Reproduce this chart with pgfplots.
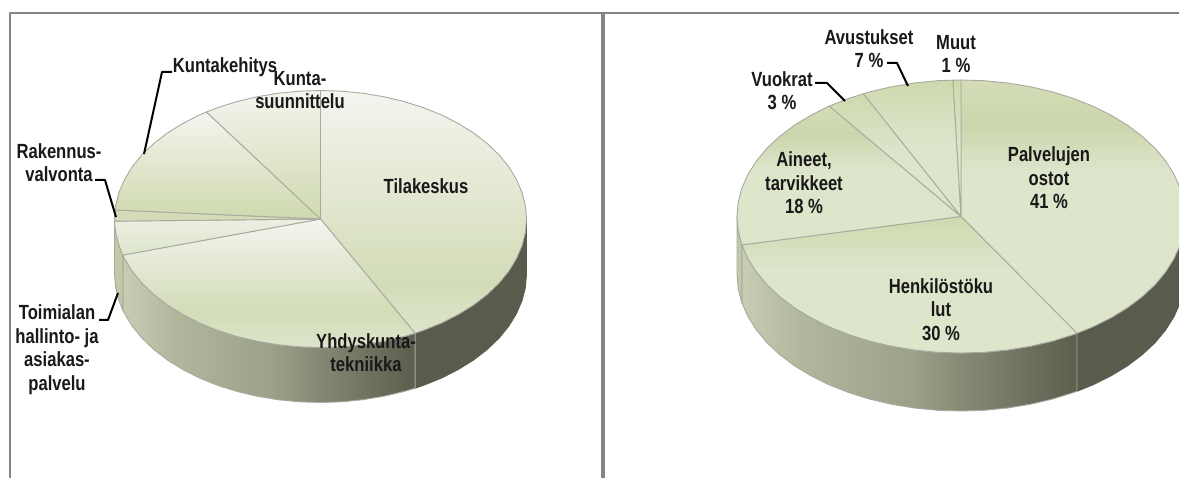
\documentclass[border=0pt]{standalone}
\usepackage{fontspec}
\setmainfont{Liberation Sans}[FakeStretch=0.81]
\usepackage{pgfplots}
\pgfplotsset{compat=1.18}
\definecolor{hi}{HTML}{F3F5EF}
\definecolor{hib}{HTML}{ECEFE3}
\definecolor{lo}{HTML}{D3DCB7}
\definecolor{mid}{HTML}{DDE5CB}
\definecolor{deep}{HTML}{CCD6AC}
\definecolor{dk}{HTML}{CFD9AE}
\definecolor{dsh}{HTML}{595C4C}
\definecolor{frame}{HTML}{858585}
\definecolor{edge}{HTML}{A8AAA0}
\definecolor{s1}{HTML}{C6CDB2}
\definecolor{s2}{HTML}{B0B79C}
\definecolor{s3}{HTML}{9CA28A}
\definecolor{s4}{HTML}{868A75}
\definecolor{s5}{HTML}{6A6D5C}
\definecolor{s6}{HTML}{5D5F4E}
\definecolor{s0}{HTML}{C1C9A6}
\pgfdeclareverticalshading{tila}{100bp}{color(0bp)=(mid); color(25bp)=(mid); color(35bp)=(lo); color(75bp)=(hi); color(100bp)=(hi)}
\pgfdeclareverticalshading{yhd}{100bp}{color(0bp)=(mid); color(25bp)=(mid); color(39bp)=(lo); color(75bp)=(hi); color(100bp)=(hi)}
\pgfdeclareverticalshading{kunta}{100bp}{color(0bp)=(dk); color(25bp)=(dk); color(75bp)=(hi); color(100bp)=(hi)}
\pgfdeclareverticalshading{toim}{100bp}{color(0bp)=(mid); color(25bp)=(mid); color(75bp)=(hib); color(100bp)=(hib)}
\pgfdeclareverticalshading{palv}{100bp}{color(0bp)=(mid); color(57bp)=(mid); color(66bp)=(deep); color(75bp)=(lo); color(100bp)=(lo)}
\pgfdeclareverticalshading{henk}{100bp}{color(0bp)=(mid); color(55bp)=(mid); color(75bp)=(dk); color(100bp)=(dk)}
\pgfdeclareverticalshading{aine}{100bp}{color(0bp)=(mid); color(52bp)=(mid); color(65bp)=(deep); color(75bp)=(lo); color(100bp)=(lo)}
\pgfdeclareverticalshading{avus}{100bp}{color(0bp)=(mid); color(51bp)=(mid); color(75bp)=(dk); color(100bp)=(dk)}
\pgfdeclarehorizontalshading{side}{100bp}{color(0bp)=(s1); color(25bp)=(s1); color(34bp)=(s2); color(50bp)=(s3); color(58bp)=(s4); color(69bp)=(s5); color(75bp)=(s6); color(100bp)=(s6)}
\tikzset{lab/.style={font=\fontsize{20.5}{23.5}\selectfont\bfseries, align=center, text=black!90, inner sep=0pt, anchor=center}}
\pgfplotsset{
  lead/.style={draw=black, line width=2pt, no markers},
  slice/.style={draw=edge, line width=0.9pt, no markers, shade},
}
\begin{document}
\begin{tikzpicture}
\useasboundingbox (0,0) rectangle (1179pt,478pt);
\begin{axis}[
  anchor=south west, at={(0,0)},
  scale only axis, width=1179pt, height=478pt,
  xmin=0, xmax=1179, ymin=0, ymax=478, y dir=reverse,
  hide axis, clip=true,
  every axis plot/.append style={line join=round},
]
% frames
\addplot[draw=frame, line width=2pt, no markers] coordinates {(10,478) (10,13.5) (1179,13.5)};
\addplot[draw=frame, line width=3.5pt, no markers] coordinates {(603,13) (603,478)};

% LEFT PIE sides
\addplot[slice, draw=dsh, shading=axis, left color=dsh, right color=dsh] coordinates {(526.5,219) (525.4,232.4) (522,245.7) (516.4,258.7) (508.7,271.3) (498.9,283.3) (487.2,294.5) (473.6,305) (458.3,314.5) (441.6,323) (423.5,330.3) (415.1,333.2) (415.1,388.2) (423.5,385.3) (441.6,378) (458.3,369.5) (473.6,360) (487.2,349.5) (498.9,338.3) (508.7,326.3) (516.4,313.7) (522,300.7) (525.4,287.4) (526.5,274)} --cycle;
\addplot[slice, shading=side] coordinates {(415.1,333.2) (404.3,336.4) (384.2,341.2) (363.3,344.7) (342,346.8) (320.5,347.5) (299,346.8) (277.7,344.7) (256.8,341.2) (236.7,336.4) (217.5,330.3) (199.4,323) (182.7,314.5) (167.4,305) (153.8,294.5) (142.1,283.3) (132.3,271.3) (124.6,258.7) (122.8,255.1) (122.8,310.1) (124.6,313.7) (132.3,326.3) (142.1,338.3) (153.8,349.5) (167.4,360) (182.7,369.5) (199.4,378) (217.5,385.3) (236.7,391.4) (256.8,396.2) (277.7,399.7) (299,401.8) (320.5,402.5) (342,401.8) (363.3,399.7) (384.2,396.2) (404.3,391.4) (415.1,388.2)} --cycle;
\addplot[slice, shading=axis, left color=s0, right color=s0] coordinates {(122.8,255.1) (119,245.7) (115.6,232.4) (114.5,219) (114.5,274) (115.6,287.4) (119,300.7) (122.8,310.1)} --cycle;

% LEFT PIE top
\addplot[slice, shading=tila] coordinates {(320.5,219) (320.5,90.5) (342,91.2) (363.3,93.3) (384.2,96.8) (404.3,101.6) (423.5,107.7) (441.6,115) (458.3,123.5) (473.6,133) (487.2,143.5) (498.9,154.7) (508.7,166.7) (516.4,179.3) (522,192.3) (525.4,205.6) (526.5,219) (525.4,232.4) (522,245.7) (516.4,258.7) (508.7,271.3) (498.9,283.3) (487.2,294.5) (473.6,305) (458.3,314.5) (441.6,323) (423.5,330.3) (415.1,333.2)} --cycle;
\addplot[slice, shading=yhd] coordinates {(320.5,219) (415.1,333.2) (404.3,336.4) (384.2,341.2) (363.3,344.7) (342,346.8) (320.5,347.5) (299,346.8) (277.7,344.7) (256.8,341.2) (236.7,336.4) (217.5,330.3) (199.4,323) (182.7,314.5) (167.4,305) (153.8,294.5) (142.1,283.3) (132.3,271.3) (124.6,258.7) (122.8,255.1)} --cycle;
\addplot[slice, shading=toim] coordinates {(320.5,219) (122.8,255.1) (119,245.7) (115.6,232.4) (114.5,221.2)} --cycle;
\addplot[slice, shading=axis, left color=lo, right color=lo] coordinates {(320.5,219) (114.5,221.2) (114.5,219) (115,210)} --cycle;
\addplot[slice, shading=kunta] coordinates {(320.5,219) (115,210) (115.6,205.6) (119,192.3) (124.6,179.3) (132.3,166.7) (142.1,154.7) (153.8,143.5) (167.4,133) (182.7,123.5) (199.4,115) (206.5,112)} --cycle;
\addplot[slice, shading=kunta] coordinates {(320.5,219) (206.5,112) (217.5,107.7) (236.7,101.6) (256.8,96.8) (277.7,93.3) (299,91.2) (320.5,90.5)} --cycle;

% RIGHT PIE sides
\addplot[slice, draw=dsh, shading=axis, left color=dsh, right color=dsh] coordinates {(1185,216.5) (1183.8,230.8) (1180.1,244.9) (1174,258.7) (1165.6,272) (1155,284.8) (1142.2,296.7) (1127.5,307.8) (1110.9,317.9) (1092.7,326.9) (1077,333.3) (1077,391.3) (1092.7,384.9) (1110.9,375.9) (1127.5,365.8) (1142.2,354.7) (1155,342.8) (1165.6,330) (1174,316.7) (1180.1,302.9) (1183.8,288.8) (1185,274.5)} --cycle;
\addplot[slice, shading=side] coordinates {(1077,333.3) (1073,334.7) (1052.1,341.2) (1030.2,346.3) (1007.6,350) (984.4,352.3) (961,353) (937.6,352.3) (914.4,350) (891.8,346.3) (869.9,341.2) (849,334.7) (829.3,326.9) (811.1,317.9) (794.5,307.8) (779.8,296.7) (767,284.8) (756.4,272) (748,258.7) (741.9,244.9) (741.9,302.9) (748,316.7) (756.4,330) (767,342.8) (779.8,354.7) (794.5,365.8) (811.1,375.9) (829.3,384.9) (849,392.7) (869.9,399.2) (891.8,404.3) (914.4,408) (937.6,410.3) (961,411) (984.4,410.3) (1007.6,408) (1030.2,404.3) (1052.1,399.2) (1073,392.7) (1077,391.3)} --cycle;
\addplot[slice, shading=axis, left color=s0, right color=s0] coordinates {(741.9,244.9) (738.2,230.8) (737,216.5) (737,274.5) (738.2,288.8) (741.9,302.9)} --cycle;

% RIGHT PIE top
\addplot[slice, shading=palv] coordinates {(961,216.5) (961,80) (984.4,80.7) (1007.6,83) (1030.2,86.7) (1052.1,91.8) (1073,98.3) (1092.7,106.1) (1110.9,115.1) (1127.5,125.2) (1142.2,136.3) (1155,148.2) (1165.6,161) (1174,174.3) (1180.1,188.1) (1183.8,202.2) (1185,216.5) (1183.8,230.8) (1180.1,244.9) (1174,258.7) (1165.6,272) (1155,284.8) (1142.2,296.7) (1127.5,307.8) (1110.9,317.9) (1092.7,326.9) (1077,333.3)} --cycle;
\addplot[slice, shading=henk] coordinates {(961,216.5) (1077,333.3) (1073,334.7) (1052.1,341.2) (1030.2,346.3) (1007.6,350) (984.4,352.3) (961,353) (937.6,352.3) (914.4,350) (891.8,346.3) (869.9,341.2) (849,334.7) (829.3,326.9) (811.1,317.9) (794.5,307.8) (779.8,296.7) (767,284.8) (756.4,272) (748,258.7) (741.9,244.9)} --cycle;
\addplot[slice, shading=aine] coordinates {(961,216.5) (741.9,244.9) (738.2,230.8) (737,216.5) (738.2,202.2) (741.9,188.1) (748,174.3) (756.4,161) (767,148.2) (779.8,136.3) (794.5,125.2) (811.1,115.1) (829.3,106.1)} --cycle;
\addplot[slice, shading=avus] coordinates {(961,216.5) (829.3,106.1) (849,98.3) (863.5,93.8)} --cycle;
\addplot[slice, shading=avus] coordinates {(961,216.5) (863.5,93.8) (869.9,91.8) (891.8,86.7) (914.4,83) (937.6,80.7) (953,80.2)} --cycle;
\addplot[slice, shading=avus] coordinates {(961,216.5) (953,80.2) (961,80)} --cycle;

% leader lines
\addplot[lead] coordinates {(172,72) (162,72) (144,154)};
\addplot[lead] coordinates {(95,180) (105,180) (116,217)};
\addplot[lead] coordinates {(99,320) (108,320) (118,293)};
\addplot[lead] coordinates {(815,83) (827,83) (845,101)};
\addplot[lead] coordinates {(887,63) (897,63) (908,86)};

% labels
\node[lab] at (axis cs:225,67) {Kuntakehitys};
\node[lab] at (axis cs:300,90) {Kunta-\\suunnittelu};
\node[lab] at (axis cs:59,162.5) {Rakennus-\\valvonta};
\node[lab] at (axis cs:426,186) {Tilakeskus};
\node[lab] at (axis cs:366,352.5) {Yhdyskunta-\\tekniikka};
\node[lab] at (axis cs:57,349.5) {Toimialan\\hallinto- ja\\asiakas-\\palvelu};
\node[lab] at (axis cs:869,48.5) {Avustukset\\7 \%};
\node[lab] at (axis cs:956,54) {Muut\\1 \%};
\node[lab] at (axis cs:782,90.5) {Vuokrat\\3 \%};
\node[lab] at (axis cs:804,183) {Aineet,\\tarvikkeet\\18 \%};
\node[lab] at (axis cs:1049,178) {Palvelujen\\ostot\\41 \%};
\node[lab] at (axis cs:941,309.5) {Henkilöstöku\\lut\\30 \%};
\end{axis}
\end{tikzpicture}
\end{document}
